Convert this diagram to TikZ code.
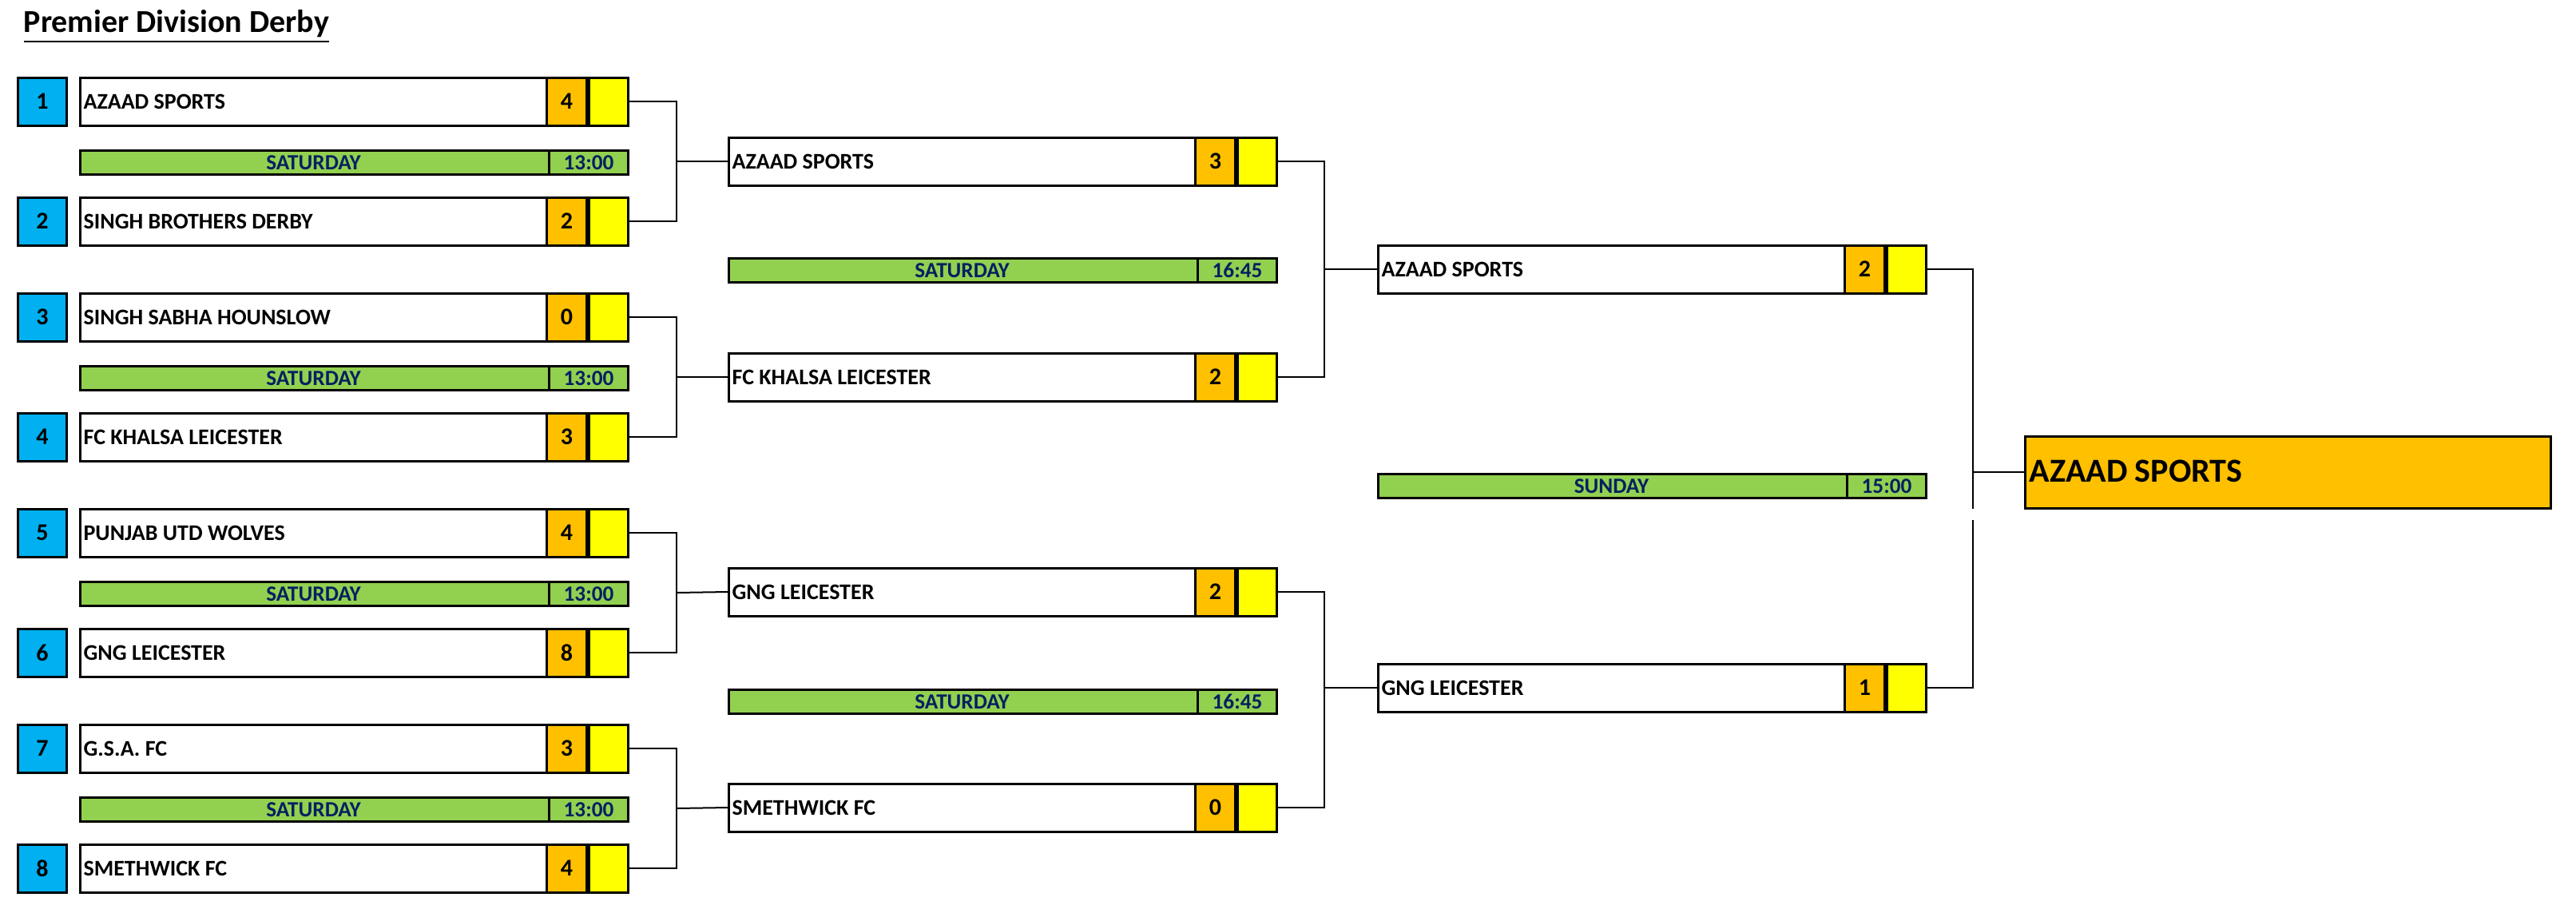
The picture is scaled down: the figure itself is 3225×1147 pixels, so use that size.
\documentclass[tikz,border=0pt]{standalone}
\usepackage{fontspec}
\setmainfont{Carlito}
\definecolor{org}{HTML}{FFC000}
\definecolor{yel}{HTML}{FFFF00}
\definecolor{grn}{HTML}{92D050}
\definecolor{blu}{HTML}{00B0F0}
\definecolor{nav}{HTML}{002060}
\tikzset{
 tbox/.style={draw,line width=0.75pt,fill=white,minimum width=171.5pt,minimum height=15pt,inner sep=0pt},
 sbox/.style={draw,line width=0.75pt,fill=org,minimum width=12.5pt,minimum height=15pt,inner sep=0pt,font=\bfseries\fontsize{7.5}{8}\selectfont},
 ybox/.style={draw,line width=0.75pt,fill=yel,minimum width=12.25pt,minimum height=15pt,inner sep=0pt},
 nbox/.style={draw,line width=0.75pt,fill=blu,minimum width=15.25pt,minimum height=15pt,inner sep=0pt,font=\bfseries\fontsize{7.5}{8}\selectfont},
 gbar/.style={draw,line width=0.75pt,fill=grn,minimum width=171.5pt,minimum height=7.5pt,inner sep=0pt,text=nav,font=\bfseries\fontsize{6.8}{7}\selectfont},
 gtime/.style={draw,line width=0.75pt,fill=grn,minimum width=24.75pt,minimum height=7.5pt,inner sep=0pt,text=nav,font=\bfseries\fontsize{6.8}{7}\selectfont},
 ttxt/.style={font=\bfseries\fontsize{7}{8}\selectfont,inner sep=0pt},
 conn/.style={line width=0.5pt},
}
\newcommand\tb[5]{%
 \node[tbox,anchor=west] (#1) at (#2,#3) {};
 \node[ttxt,anchor=west] (#1t) at ([xshift=1.2pt]#1.west) {#4};
 \node[ybox,anchor=east] (#1y) at (#1.east) {};
 \node[sbox,anchor=east] (#1s) at (#1y.west) {#5};}
\newcommand\gb[5]{%
 \node[gbar,anchor=north west] (#1) at (#2,#3) {};
 \node[gtime,anchor=north east] (#1tm) at (#1.north east) {#5};
 \node[text=nav,font=\bfseries\fontsize{6.8}{7}\selectfont,inner sep=0pt] (#1d) at ($(#1.west)!0.5!(#1tm.west)$) {#4};}
\usetikzlibrary{calc}
\begin{document}
\begin{tikzpicture}[x=0.25pt,y=-0.25pt]
\useasboundingbox (0,0) rectangle (3225,1147);
\node[anchor=base west,inner sep=0pt,font=\bfseries\fontsize{10}{12}\selectfont] (title) at (29,40) {\underline{Premier Division Derby}};
% round 1
\tb{a1}{99}{127}{AZAAD SPORTS}{4}
\tb{a2}{99}{277}{SINGH BROTHERS DERBY}{2}
\tb{a3}{99}{397}{SINGH SABHA HOUNSLOW}{0}
\tb{a4}{99}{547}{FC KHALSA LEICESTER}{3}
\tb{a5}{99}{667}{PUNJAB UTD WOLVES}{4}
\tb{a6}{99}{817}{GNG LEICESTER}{8}
\tb{a7}{99}{937}{G.S.A. FC}{3}
\tb{a8}{99}{1087}{SMETHWICK FC}{4}
\node[nbox,anchor=west] (n1) at (21,127) {1};
\node[nbox,anchor=west] (n2) at (21,277) {2};
\node[nbox,anchor=west] (n3) at (21,397) {3};
\node[nbox,anchor=west] (n4) at (21,547) {4};
\node[nbox,anchor=west] (n5) at (21,667) {5};
\node[nbox,anchor=west] (n6) at (21,817) {6};
\node[nbox,anchor=west] (n7) at (21,937) {7};
\node[nbox,anchor=west] (n8) at (21,1087) {8};
\gb{g1}{99}{187}{SATURDAY}{13:00}
\gb{g2}{99}{457}{SATURDAY}{13:00}
\gb{g3}{99}{727}{SATURDAY}{13:00}
\gb{g4}{99}{997}{SATURDAY}{13:00}
% round 2
\tb{b1}{911}{202}{AZAAD SPORTS}{3}
\tb{b2}{911}{472}{FC KHALSA LEICESTER}{2}
\tb{b3}{911}{741}{GNG LEICESTER}{2}
\tb{b4}{911}{1011}{SMETHWICK FC}{0}
\gb{h1}{911}{322}{SATURDAY}{16:45}
\gb{h2}{911}{862}{SATURDAY}{16:45}
% round 3
\tb{c1}{1724}{337}{AZAAD SPORTS}{2}
\tb{c2}{1724}{861}{GNG LEICESTER}{1}
\gb{k1}{1724}{592}{SUNDAY}{15:00}
% final
\node[draw,line width=0.75pt,fill=org,minimum width=164.5pt,minimum height=22.5pt,anchor=west,inner sep=0pt] (fin) at (2534,591) {};
\node[anchor=west,inner sep=0pt,font=\bfseries\fontsize{10.5}{12}\selectfont] (fint) at ([xshift=1.5pt,yshift=0.3pt]fin.west) {AZAAD SPORTS};
% connectors
\coordinate (j1) at (847,202); \coordinate (j2) at (847,472);
\coordinate (j3) at (847,742); \coordinate (j4) at (847,1012);
\draw[conn] (a1y.east) -| (j1) |- (a2y.east); \draw[conn] (j1) -- (b1.west);
\draw[conn] (a3y.east) -| (j2) |- (a4y.east); \draw[conn] (j2) -- (b2.west);
\draw[conn] (a5y.east) -| (j3) |- (a6y.east); \draw[conn] (j3) -- (b3.west);
\draw[conn] (a7y.east) -| (j4) |- (a8y.east); \draw[conn] (j4) -- (b4.west);
\coordinate (k1a) at (1658,202); \coordinate (k1b) at (1658,472);
\draw[conn] (b1y.east) -- (k1a) -- (k1b) -- (b2y.east); \draw[conn] (k1a |- c1.west) -- (c1.west);
\coordinate (k2a) at (1658,741); \coordinate (k2b) at (1658,1011);
\draw[conn] (b3y.east) -- (k2a) -- (k2b) -- (b4y.east); \draw[conn] (k2a |- c2.west) -- (c2.west);
\coordinate (f1) at (2470,337); \coordinate (f2) at (2470,637);
\coordinate (f3) at (2470,651); \coordinate (f4) at (2470,861);
\draw[conn] (c1y.east) -- (f1) -- (f2);
\draw[conn] (f3) -- (f4) -- (c2y.east);
\draw[conn] (f1 |- fin.west) -- (fin.west);
\end{tikzpicture}
\end{document}
